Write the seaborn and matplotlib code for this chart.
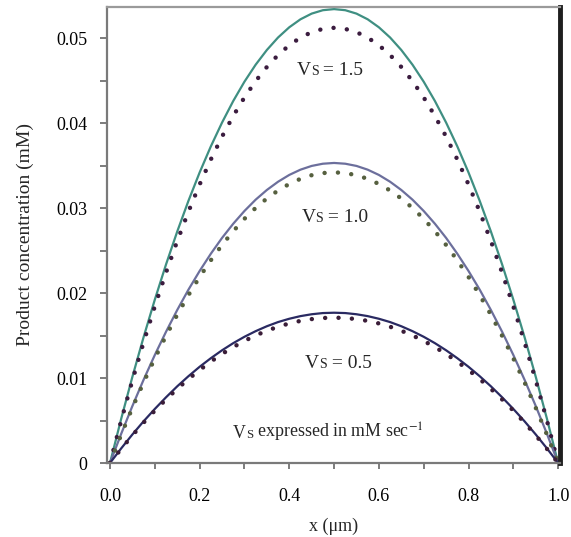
import numpy as np
import pandas as pd
import matplotlib
matplotlib.use("Agg")
import matplotlib.pyplot as plt
import seaborn as sns
from matplotlib.offsetbox import TextArea, HPacker, AnnotationBbox

# Position across the membrane (µm)
x_pos = [0.0, 0.025, 0.05, 0.075, 0.1, 0.125, 0.15, 0.175, 0.2, 0.225, 0.25,
         0.275, 0.3, 0.325, 0.35, 0.375, 0.4, 0.425, 0.45, 0.475, 0.5,
         0.525, 0.55, 0.575, 0.6, 0.625, 0.65, 0.675, 0.7, 0.725, 0.75,
         0.775, 0.8, 0.825, 0.85, 0.875, 0.9, 0.925, 0.95, 0.975, 1.0]

# Product concentration (mM): solid = numerical, dotted = analytical
solid_15 = [0.0, 0.00521, 0.01015, 0.01482, 0.01922, 0.02336, 0.02723, 0.03084, 0.03418, 0.03725, 0.04005,
            0.04259, 0.04486, 0.04686, 0.04859, 0.05006, 0.05126, 0.05220, 0.05287, 0.05327, 0.0534,
            0.05327, 0.05287, 0.05220, 0.05126, 0.05006, 0.04859, 0.04686, 0.04486, 0.04259, 0.04005,
            0.03725, 0.03418, 0.03084, 0.02723, 0.02336, 0.01922, 0.01482, 0.01015, 0.00521, 0.0]
dotted_15 = [0.0, 0.00499, 0.00973, 0.01421, 0.01843, 0.02240, 0.02611, 0.02957, 0.03277, 0.03571, 0.0384,
             0.04083, 0.04301, 0.04493, 0.04659, 0.04800, 0.04915, 0.05005, 0.05069, 0.05107, 0.0512,
             0.05107, 0.05069, 0.05005, 0.04915, 0.04800, 0.04659, 0.04493, 0.04301, 0.04083, 0.0384,
             0.03571, 0.03277, 0.02957, 0.02611, 0.02240, 0.01843, 0.01421, 0.00973, 0.00499, 0.0]
solid_10 = [0.0, 0.00344, 0.00671, 0.00980, 0.01271, 0.01544, 0.0180, 0.02039, 0.02259, 0.02462, 0.02648,
            0.02815, 0.02965, 0.03098, 0.03212, 0.03309, 0.03389, 0.03451, 0.03495, 0.03521, 0.0353,
            0.03521, 0.03495, 0.03451, 0.03389, 0.03309, 0.03212, 0.03098, 0.02965, 0.02815, 0.02648,
            0.02462, 0.02259, 0.02039, 0.0180, 0.01544, 0.01271, 0.00980, 0.00671, 0.00344, 0.0]
dotted_10 = [0.0, 0.00333, 0.0065, 0.00949, 0.01231, 0.01496, 0.01744, 0.01975, 0.02189, 0.02385, 0.02565,
             0.02727, 0.02873, 0.03001, 0.03112, 0.03206, 0.03283, 0.03343, 0.03386, 0.03411, 0.0342,
             0.03411, 0.03386, 0.03343, 0.03283, 0.03206, 0.03112, 0.03001, 0.02873, 0.02727, 0.02565,
             0.02385, 0.02189, 0.01975, 0.01744, 0.01496, 0.01231, 0.00949, 0.0065, 0.00333, 0.0]
solid_05 = [0.0, 0.00172, 0.00336, 0.00491, 0.00636, 0.00773, 0.00902, 0.01021, 0.01132, 0.01233, 0.01326,
            0.0141, 0.01485, 0.01551, 0.01609, 0.01658, 0.01697, 0.01728, 0.0175, 0.01764, 0.01768,
            0.01764, 0.0175, 0.01728, 0.01697, 0.01658, 0.01609, 0.01551, 0.01485, 0.0141, 0.01326,
            0.01233, 0.01132, 0.01021, 0.00902, 0.00773, 0.00636, 0.00491, 0.00336, 0.00172, 0.0]
dotted_05 = [0.0, 0.00167, 0.00325, 0.00475, 0.00616, 0.00748, 0.00872, 0.00988, 0.01094, 0.01193, 0.01283,
             0.01364, 0.01436, 0.01501, 0.01556, 0.01603, 0.01642, 0.01672, 0.01693, 0.01706, 0.0171,
             0.01706, 0.01693, 0.01672, 0.01642, 0.01603, 0.01556, 0.01501, 0.01436, 0.01364, 0.01283,
             0.01193, 0.01094, 0.00988, 0.00872, 0.00748, 0.00616, 0.00475, 0.00325, 0.00167, 0.0]

vs_labels = ["1.5", "1.0", "0.5"]
x_ticks = [0.0, 0.2, 0.4, 0.6, 0.8, 1.0]
x_tick_labels = ["0.0", "0.2", "0.4", "0.6", "0.8", "1.0"]
y_ticks = [0.0, 0.01, 0.02, 0.03, 0.04, 0.05]
y_tick_labels = ["0", "0.01", "0.02", "0.03", "0.04", "0.05"]

sns.set_theme(style="white")
plt.rcParams["font.family"] = ["Liberation Serif", "DejaVu Serif"]
plt.rcParams["mathtext.fontset"] = "stix"

fig = plt.figure(figsize=(5.71, 5.37), dpi=100)
ax = fig.add_axes([0.1874, 0.1378, 0.7936, 0.8492])

dot_style = dict(linestyle=(0, (0.01, 3.0)), linewidth=3.2, dash_capstyle="round")

curves = [
    (solid_15, dict(color="#3f8f82", linewidth=1.6)),
    (dotted_15, dict(color="#3b1c3f", **dot_style)),
    (solid_10, dict(color="#6c6f9c", linewidth=1.6)),
    (dotted_10, dict(color="#56603f", **dot_style)),
    (solid_05, dict(color="#2a2a62", linewidth=1.6)),
    (dotted_05, dict(color="#3a1d38", **dot_style)),
]
for vals, style in curves:
    sns.lineplot(x=x_pos, y=vals, ax=ax, **style)

ax.set_xlim(-0.0067, 1.0045)
ax.set_ylim(0.0, 0.05365)

ax.set_xticks(x_ticks)
ax.set_xticklabels(x_tick_labels)
ax.set_yticks(y_ticks)
ax.set_yticklabels(y_tick_labels)
ax.set_xticks(np.arange(0.1, 1.0, 0.2), minor=True)
ax.set_yticks(np.arange(0.005, 0.055, 0.01), minor=True)

ax.tick_params(axis="both", which="both", direction="out", color="#666666",
               width=1.2, labelsize=13, labelcolor="black")
ax.tick_params(axis="y", which="both", length=5, pad=9, left=True)
ax.tick_params(axis="x", which="both", length=4, pad=14, bottom=True)

for side in ["left", "bottom"]:
    ax.spines[side].set_color("#7a7a7a")
    ax.spines[side].set_linewidth(1.6)
ax.spines["top"].set_color("#9a9a9a")
ax.spines["top"].set_linewidth(1.6)
ax.spines["right"].set_color("#1e1e1e")
ax.spines["right"].set_linewidth(3.5)

ax.set_xlabel("x (μm)", fontsize=13, labelpad=9)
ax.set_ylabel("Product concentration (mM)", fontsize=14, labelpad=16)


def vs_label(text, xy, size=14):
    parts = [TextArea("V", textprops=dict(size=size, family="Liberation Serif")),
             TextArea("S", textprops=dict(size=size * 0.72, family="Liberation Serif")),
             TextArea(text, textprops=dict(size=size, family="Liberation Serif"))]
    box = HPacker(children=parts, align="baseline", pad=0, sep=0)
    ab = AnnotationBbox(box, xy, xycoords="data", frameon=False, box_alignment=(0.5, 0.5))
    ax.add_artist(ab)


vs_label(" = " + vs_labels[0], (0.491, 0.0462))
vs_label(" = " + vs_labels[1], (0.502, 0.0289))
vs_label(" = " + vs_labels[2], (0.509, 0.01165))
vs_label(" expressed in mM sec$^{-1}$", (0.487, 0.0036), size=12.9)

fig.savefig("out.png", dpi=100)
